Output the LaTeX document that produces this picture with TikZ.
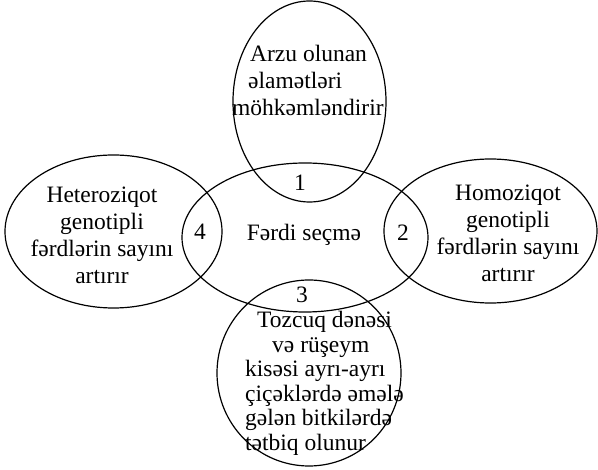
\documentclass[tikz,border=0pt]{standalone}
\usepackage{fontspec}
\setmainfont{Liberation Serif}
\tikzset{
  txt/.style={font=\fontsize{23.5}{27}\selectfont, align=center, inner sep=0pt},
  num/.style={font=\fontsize{23.5}{27}\selectfont, inner sep=0pt}
}
\begin{document}
\begin{tikzpicture}[x=1pt,y=-1pt]
      \useasboundingbox (0,0) rectangle (598,470);
      \draw[line width=1.2pt] (309.5,101.5) ellipse [x radius=76.5pt, y radius=100.5pt];
      \draw[line width=1.2pt] (305,237.5) ellipse [x radius=123pt, y radius=74.5pt];
      \draw[line width=1.2pt] (113.5,231.5) ellipse [x radius=108.5pt, y radius=76.5pt];
      \draw[line width=1.2pt] (490.5,231) ellipse [x radius=106.5pt, y radius=72pt];
      \draw[line width=1.2pt] (309,373) ellipse [x radius=92pt, y radius=93pt];
      \node[txt, align=left, anchor=north west] (arzu) at (232,45)
        {\hspace{18pt}Arzu olunan\\\hspace{16pt}əlamətləri\\möhkəmləndirir};
      \node[txt] (hetero) at (102,235)
        {Heteroziqot\\genotipli\\fərdlərin sayını\\artırır};
      \node[txt] (homo) at (508,233)
        {Homoziqot\\genotipli\\fərdlərin sayını\\artırır};
      \node[txt, font=\fontsize{23.5}{24.5}\selectfont, align=left, anchor=north west] (tozcuq) at (245,311)
        {\hspace{12pt}Tozcuq dənəsi\\\hspace{27pt}və rüşeym\\kisəsi ayrı-ayrı\\çiçəklərdə əmələ\\gələn bitkilərdə\\tətbiq olunur};
      \node[txt] (ferdi) at (304,235) {Fərdi seçmə};
      \node[num] (n1) at (300,183) {1};
      \node[num] (n2) at (403,233) {2};
      \node[num] (n3) at (302,295) {3};
      \node[num] (n4) at (200,232) {4};
    \end{tikzpicture}
\end{document}
